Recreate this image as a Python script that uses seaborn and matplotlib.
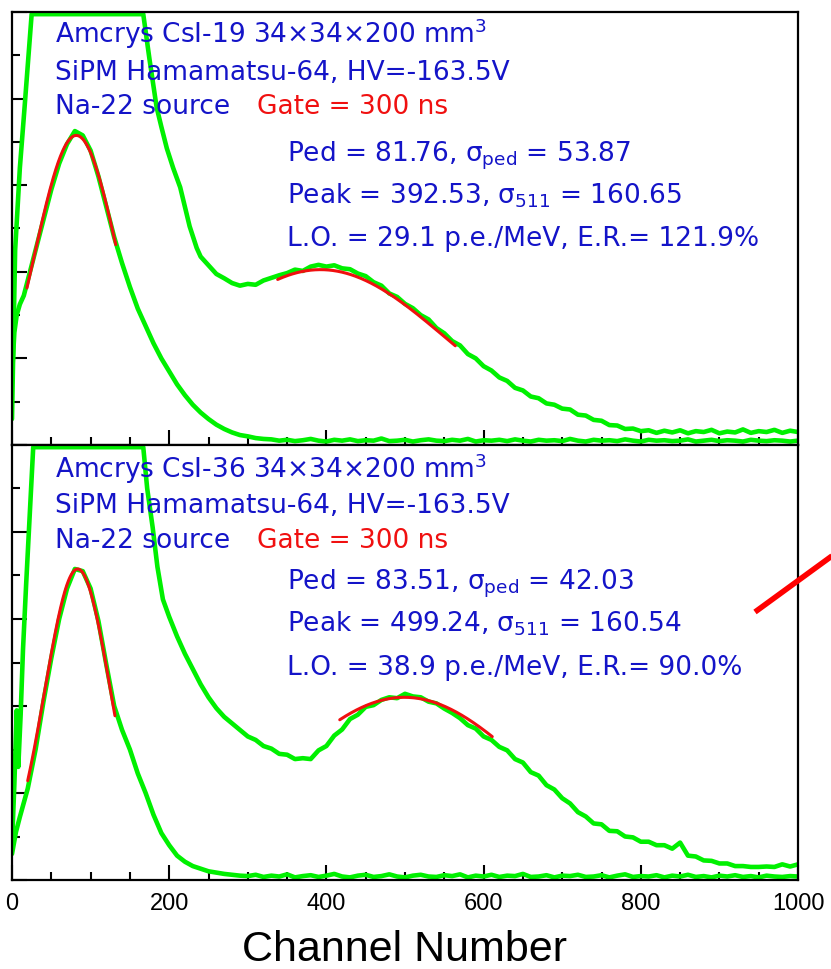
import numpy as np
import pandas as pd
import matplotlib
matplotlib.use("Agg")
import matplotlib.pyplot as plt
import seaborn as sns
from matplotlib.lines import Line2D
from matplotlib.ticker import MultipleLocator, NullFormatter

# ---------------------------------------------------------------- data
# Channel spectra, y in display units (10 divisions per panel).
# Values of 9.95 are counts saturated at the top of the frame.

# CsI-19 : pedestal-side spectrum
top_ped_ch = [0, 3, 6, 10, 15, 20] + list(range(30, 1001, 10))
top_ped_val = [1.6, 2.6, 3.0, 3.25, 3.45, 3.8,
               4.5, 5.2, 5.9, 6.5, 6.95, 7.25, 7.15, 6.8, 6.2, 5.5,
               4.8, 4.2, 3.65, 3.15, 2.75, 2.35, 2.0, 1.7, 1.4, 1.15,
               0.93, 0.75, 0.6, 0.47, 0.37, 0.29, 0.23, 0.2, 0.16, 0.14,
               0.13, 0.1, 0.12, 0.09, 0.11, 0.14, 0.1, 0.08, 0.12, 0.1,
               0.13, 0.09, 0.11, 0.1, 0.15, 0.09, 0.1, 0.12, 0.08, 0.11,
               0.13, 0.1, 0.09, 0.12, 0.1, 0.14, 0.08, 0.11, 0.1, 0.12,
               0.09, 0.13, 0.1, 0.08, 0.12, 0.1, 0.11, 0.09, 0.14, 0.1,
               0.08, 0.12, 0.1, 0.11, 0.09, 0.13, 0.1, 0.08, 0.12, 0.1,
               0.11, 0.09, 0.1, 0.13, 0.08, 0.1, 0.12, 0.09, 0.11, 0.1,
               0.08, 0.12, 0.1, 0.09, 0.11, 0.1, 0.08, 0.1]

# CsI-19 : full source spectrum (Na-22)
top_src_ch = ([0, 1, 4, 10, 16, 25, 40, 60, 80, 100, 120, 140, 160,
               167, 175, 184, 190, 197, 205, 214, 220, 226, 235]
              + list(range(240, 1001, 10)))
top_src_val = [0.6, 1.6, 4.5, 6.4, 7.8, 9.95, 9.95, 9.95, 9.95, 9.95, 9.95, 9.95, 9.95,
               9.95, 8.9, 7.8, 7.35, 6.85, 6.4, 5.95, 5.5, 5.05, 4.55,
               4.35, 4.15, 3.95, 3.85, 3.74, 3.68, 3.72, 3.7, 3.8, 3.86,
               3.92, 3.97, 4.05, 4.02, 4.12, 4.16, 4.12, 4.15, 4.08, 4.06,
               3.96, 3.9, 3.76, 3.68, 3.5, 3.42, 3.26, 3.16, 3.0, 2.9,
               2.7, 2.58, 2.4, 2.3, 2.1, 2.0, 1.82, 1.72, 1.56, 1.48,
               1.32, 1.26, 1.12, 1.08, 0.96, 0.93, 0.84, 0.82, 0.7, 0.68,
               0.58, 0.56, 0.46, 0.45, 0.37, 0.38, 0.32, 0.34, 0.28, 0.33,
               0.29, 0.34, 0.27, 0.32, 0.3, 0.35, 0.27, 0.31, 0.29, 0.36,
               0.28, 0.32, 0.3, 0.35, 0.28, 0.33, 0.3]

# CsI-36 : pedestal-side spectrum
bot_ped_ch = [0, 5, 10] + list(range(20, 1001, 10))
bot_ped_val = [0.6, 1.1, 1.45,
               2.1, 3.0, 4.1, 5.1, 6.0, 6.7, 7.15, 7.1, 6.7, 5.95,
               4.95, 4.0, 3.45, 3.0, 2.45, 2.0, 1.5, 1.08, 0.8, 0.56,
               0.42, 0.32, 0.26, 0.2, 0.17, 0.14, 0.12, 0.1,
               0.09, 0.12, 0.07, 0.1, 0.08, 0.13, 0.06, 0.09, 0.11, 0.07,
               0.1, 0.14, 0.08, 0.06, 0.1, 0.12, 0.07, 0.09, 0.13, 0.08,
               0.06, 0.1, 0.12, 0.08, 0.07, 0.11, 0.09, 0.13, 0.06, 0.1,
               0.08, 0.12, 0.07, 0.1, 0.09, 0.14, 0.07, 0.08, 0.11, 0.06,
               0.1, 0.09, 0.12, 0.07, 0.08, 0.11, 0.06, 0.1, 0.13, 0.07,
               0.09, 0.08, 0.11, 0.06, 0.1, 0.08, 0.12, 0.07, 0.09, 0.06,
               0.1, 0.08, 0.11, 0.07, 0.09, 0.06, 0.1, 0.08, 0.07, 0.09, 0.08]

# CsI-36 : full source spectrum (Na-22)
bot_src_ch = ([0, 3, 6, 8, 11, 14, 18, 22, 27, 40, 60, 80, 100, 120, 140, 160,
               167, 172, 179, 185, 192] + list(range(200, 1001, 10)))
bot_src_val = [0.8, 2.2, 3.9, 2.6, 3.8, 5.3, 6.8, 8.2, 9.95, 9.95, 9.95, 9.95, 9.95, 9.95, 9.95, 9.95,
               9.95, 9.0, 8.1, 7.2, 6.45,
               6.05, 5.6, 5.2, 4.85, 4.5, 4.2, 3.95, 3.75, 3.6, 3.45,
               3.3, 3.22, 3.08, 3.02, 2.9, 2.88, 2.78, 2.8, 2.78, 2.98,
               3.08, 3.32, 3.46, 3.7, 3.8, 3.98, 4.02, 4.14, 4.2, 4.18,
               4.28, 4.22, 4.2, 4.1, 4.06, 3.94, 3.84, 3.72, 3.56, 3.48,
               3.3, 3.22, 3.06, 2.98, 2.78, 2.7, 2.48, 2.4, 2.18, 2.08,
               1.88, 1.76, 1.56, 1.46, 1.3, 1.28, 1.13, 1.12, 1.0, 0.98,
               0.88, 0.88, 0.8, 0.8, 0.72, 0.86, 0.56, 0.54, 0.45, 0.44,
               0.38, 0.38, 0.32, 0.32, 0.3, 0.3, 0.31, 0.3, 0.36, 0.31, 0.36]

# Gaussian fits: (amplitude, mean, sigma, fit range)
top_fits = [(7.15, 81.76, 53.87, (19, 132)), (4.05, 392.53, 160.65, (338, 564))]
bot_fits = [(7.15, 83.51, 42.03, (20, 131)), (4.2, 499.24, 160.54, (417, 611))]

x_ticks = [0, 200, 400, 600, 800, 1000]

top_header = ["Amcrys CsI-19 34\u00d734\u00d7200 mm$^3$",
              "SiPM Hamamatsu-64, HV=-163.5V", "Na-22 source"]
top_stats = ["Ped = 81.76, \u03c3$_{\\mathrm{ped}}$ = 53.87",
             "Peak = 392.53, \u03c3$_{\\mathrm{511}}$ = 160.65",
             "L.O. = 29.1 p.e./MeV, E.R.= 121.9%"]
bot_header = ["Amcrys CsI-36 34\u00d734\u00d7200 mm$^3$",
              "SiPM Hamamatsu-64, HV=-163.5V", "Na-22 source"]
bot_stats = ["Ped = 83.51, \u03c3$_{\\mathrm{ped}}$ = 42.03",
             "Peak = 499.24, \u03c3$_{\\mathrm{511}}$ = 160.54",
             "L.O. = 38.9 p.e./MeV, E.R.= 90.0%"]
gate_text = "Gate = 300 ns"

# ---------------------------------------------------------------- style
sns.set_style("ticks")
plt.rcParams["font.family"] = ["Liberation Sans", "DejaVu Sans"]
plt.rcParams["mathtext.fontset"] = "dejavusans"
for key in ("text.color", "axes.labelcolor", "xtick.color", "ytick.color",
            "axes.edgecolor"):
    plt.rcParams[key] = "black"

GREEN = "#00F000"
RED = "#F01010"
BLUE = "#1414C8"
NOTE_FONT = ["DejaVu Sans"]

W, H = 831, 969
fig = plt.figure(figsize=(W / 100, H / 100), dpi=100)
fig.patch.set_facecolor("white")


def axes_px(x0, y0, x1, y1):
    return fig.add_axes([x0 / W, 1 - y1 / H, (x1 - x0) / W, (y1 - y0) / H])


def text_px(x, y, s, **kw):
    fig.text(x / W, 1 - y / H, s, va="baseline", ha="left",
             family=NOTE_FONT, **kw)


ax_top = axes_px(12, 12, 798, 445)
ax_bot = axes_px(12, 445, 798, 880)


def draw_panel(ax, spectra, fits):
    for ch, val in spectra:
        df = pd.DataFrame({"channel": ch, "value": val})
        sns.lineplot(data=df, x="channel", y="value", ax=ax, color=GREEN,
                     lw=3.3, estimator=None, sort=False, zorder=2)
    for amp, mu, sig, (lo, hi) in fits:
        xf = np.linspace(lo, hi, 200)
        yf = amp * np.exp(-0.5 * ((xf - mu) / sig) ** 2)
        sns.lineplot(x=xf, y=yf, ax=ax, color=RED, lw=2.2,
                     estimator=None, sort=False, zorder=3)
    ax.set_xlim(0, 1000)
    ax.set_ylim(0, 10)
    ax.set_facecolor("white")
    ax.xaxis.set_major_locator(MultipleLocator(200))
    ax.xaxis.set_minor_locator(MultipleLocator(50))
    ax.yaxis.set_major_locator(MultipleLocator(2))
    ax.yaxis.set_minor_locator(MultipleLocator(1))
    ax.tick_params(which="major", direction="in", length=10.8, width=1.5,
                   top=False, right=False, colors="black")
    ax.tick_params(which="minor", direction="in", length=5.5, width=1.5,
                   top=False, right=False, colors="black")
    ax.yaxis.set_major_formatter(NullFormatter())
    ax.set_ylabel("")
    ax.set_xlabel("")
    for sp in ax.spines.values():
        sp.set_linewidth(1.6)
        sp.set_color("black")
        sp.set_zorder(5)


draw_panel(ax_top, [(top_ped_ch, top_ped_val), (top_src_ch, top_src_val)], top_fits)
draw_panel(ax_bot, [(bot_ped_ch, bot_ped_val), (bot_src_ch, bot_src_val)], bot_fits)

ax_top.xaxis.set_major_formatter(NullFormatter())
ax_bot.set_xticks(x_ticks)
ax_bot.set_xticklabels([str(t) for t in x_ticks], fontsize=17, color="black")
ax_bot.tick_params(axis="x", which="major", pad=9)
ax_bot.set_xlabel("Channel Number", fontsize=31, color="black")
ax_bot.xaxis.label.set_va("baseline")
ax_bot.xaxis.set_label_coords(0.5, (880 - 961) / 435)

# panel annotations
FS = 19
for header, stats, y_head, y_stats in [
        (top_header, top_stats, [43, 80, 114], [162, 204, 246]),
        (bot_header, bot_stats, [478, 513, 548], [589, 631, 675])]:
    for s, y in zip(header, y_head):
        text_px(55, y, s, color=BLUE, fontsize=FS)
    text_px(257, y_head[2], gate_text, color=RED, fontsize=FS)
    for s, y in zip(stats, y_stats):
        text_px(287, y, s, color=BLUE, fontsize=FS)

# pointer stroke at the right edge
fig.add_artist(Line2D([755 / W, 836 / W], [1 - 612 / H, 1 - 553 / H],
                      color="#FF0000", lw=4.0, solid_capstyle="butt"))

fig.savefig("out.png", dpi=100, facecolor="white")
